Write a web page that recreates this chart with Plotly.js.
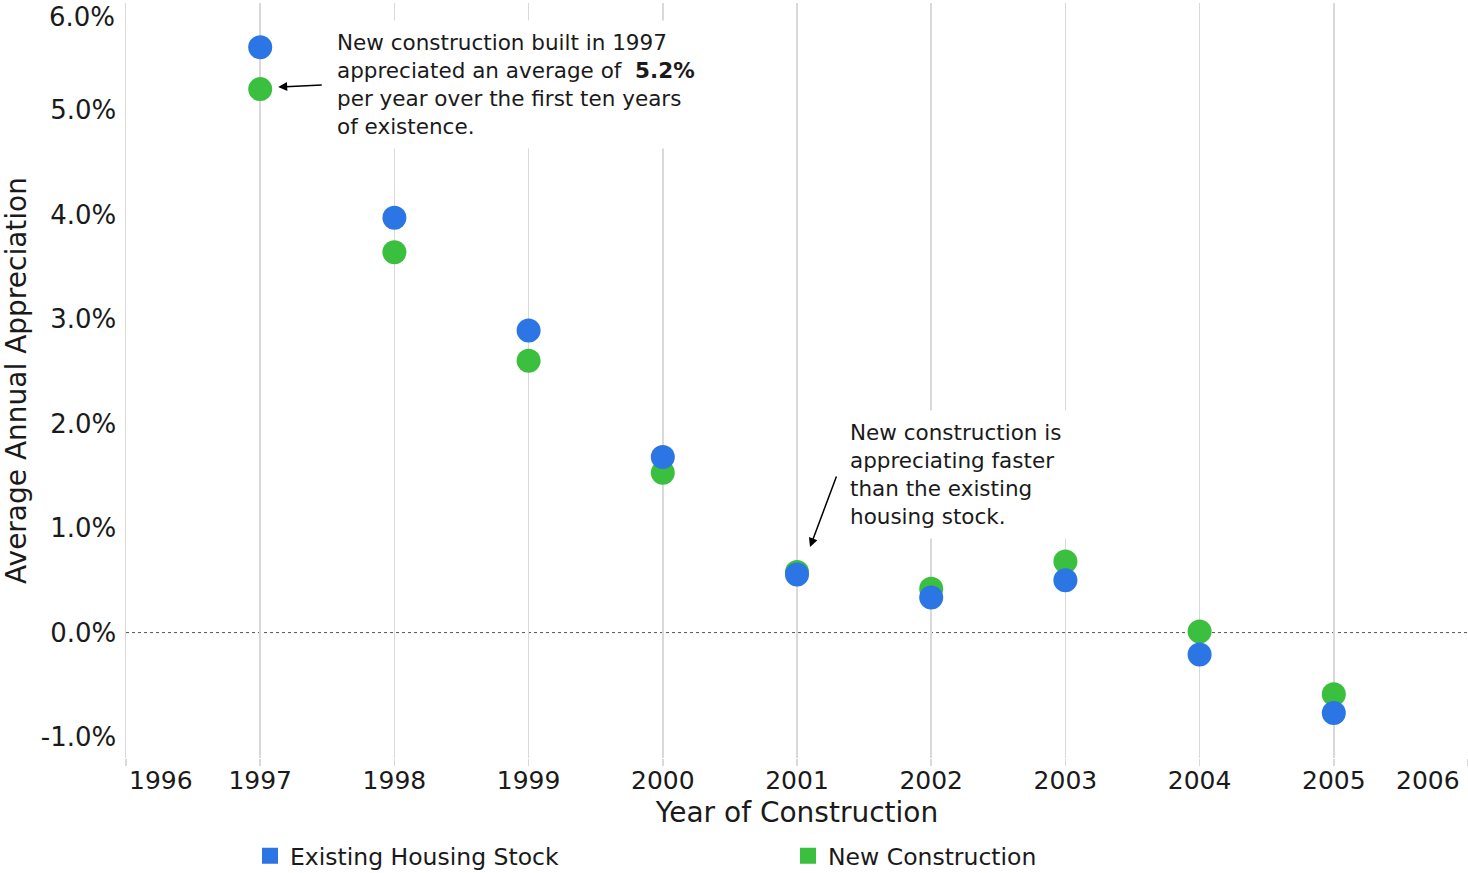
<!DOCTYPE html>
<html>
<head>
<meta charset="utf-8">
<script src="https://cdn.plot.ly/plotly-3.0.1.min.js"></script>
<style>html,body{margin:0;padding:0;background:#fff}#chart{width:1468px;height:873px}</style>
</head>
<body>
<div id="chart"></div>
<script>
// ---- data ----
const years = [1997, 1998, 1999, 2000, 2001, 2002, 2003, 2004, 2005];
const existingStock = [5.60, 3.97, 2.89, 1.68, 0.555, 0.335, 0.50, -0.21, -0.77];
const newConstruction = [5.20, 3.64, 2.60, 1.53, 0.58, 0.42, 0.68, 0.01, -0.59];
const xTickYears = [1996, 1997, 1998, 1999, 2000, 2001, 2002, 2003, 2004, 2005, 2006];
const yTickVals = [-1, 0, 1, 2, 3, 4, 5, 6];
const yTickLabels = ['-1.0%', '0.0%', '1.0%', '2.0%', '3.0%', '4.0%', '5.0%', '6.0%'];
const seriesNames = ['Existing Housing Stock', 'New Construction'];

const BLUE = '#2c75e5';
const GREEN = '#3abf3e';
const FONT = 'DejaVu Sans, sans-serif';
const TXT = '#1a1a1a';

const traces = [
  {x: years, y: newConstruction, type: 'scatter', mode: 'markers', name: seriesNames[1],
   marker: {color: GREEN, size: 24}, showlegend: false, cliponaxis: false},
  {x: years, y: existingStock, type: 'scatter', mode: 'markers', name: seriesNames[0],
   marker: {color: BLUE, size: 24}, showlegend: false, cliponaxis: false},
  {x: [null], y: [null], type: 'scatter', mode: 'markers', name: seriesNames[0],
   marker: {color: BLUE, size: 20, symbol: 'square'}},
  {x: [null], y: [null], type: 'scatter', mode: 'markers', name: seriesNames[1],
   marker: {color: GREEN, size: 20, symbol: 'square'}}
];

const innerTicks = xTickYears.slice(1, -1);
const lastY = yTickVals.length - 1;

const annotations = [
  {xref: 'x', yref: 'paper', x: xTickYears[0], y: 0, xshift: 35, yshift: -22, yanchor: 'middle',
   text: String(xTickYears[0]), showarrow: false, font: {family: FONT, size: 25, color: TXT}},
  {xref: 'x', yref: 'paper', x: xTickYears[xTickYears.length - 1], y: 0, xshift: -40, yshift: -22, yanchor: 'middle',
   text: String(xTickYears[xTickYears.length - 1]), showarrow: false, font: {family: FONT, size: 25, color: TXT}},
  {xref: 'paper', yref: 'y', x: 0, y: yTickVals[lastY], xanchor: 'right', xshift: -9, yshift: -11, yanchor: 'middle',
   text: yTickLabels[lastY], showarrow: false, font: {family: FONT, size: 26, color: TXT}},
  {xref: 'x', yref: 'y', x: 1997.499, y: 5.244, xanchor: 'left', yanchor: 'middle', align: 'left',
   text: 'New construction built in 1997<br>appreciated an average of  <b>5.2%</b><br>per year over the first ten years<br>of existence.',
   showarrow: false, bgcolor: '#ffffff', borderpad: 9, font: {family: FONT, size: 21.5, color: TXT}},
  {xref: 'x', yref: 'y', x: 2001.32, y: 1.512, xanchor: 'left', yanchor: 'middle', align: 'left',
   text: 'New construction is<br>appreciating faster<br>than the existing<br>housing stock.',
   showarrow: false, bgcolor: '#ffffff', borderpad: 9, font: {family: FONT, size: 21.5, color: TXT}},
  {xref: 'x', yref: 'y', x: 1997.134, y: 5.22, axref: 'x', ayref: 'y', ax: 1997.47, ay: 5.24,
   text: '', showarrow: true, arrowhead: 2, arrowsize: 1.2, arrowwidth: 1.5, arrowcolor: '#000'},
  {xref: 'x', yref: 'y', x: 2001.097, y: 0.818, axref: 'x', ayref: 'y', ax: 2001.298, ay: 1.507,
   text: '', showarrow: true, arrowhead: 2, arrowsize: 1.2, arrowwidth: 1.5, arrowcolor: '#000'}
];

const layout = {
  width: 1468, height: 873,
  margin: {l: 126, r: 0, t: 3, b: 115, autoexpand: false},
  paper_bgcolor: '#ffffff', plot_bgcolor: '#ffffff',
  font: {family: FONT, color: TXT},
  showlegend: true,
  legend: {orientation: 'h', xref: 'container', yref: 'container', x: 0.1703, xanchor: 'left',
           y: 0.0195, yanchor: 'middle',
           entrywidth: 493, entrywidthmode: 'pixels', font: {family: FONT, size: 23.5, color: TXT},
           bgcolor: 'rgba(0,0,0,0)'},
  xaxis: {
    range: [xTickYears[0], xTickYears[xTickYears.length - 1]],
    automargin: false,
    tickmode: 'array', tickvals: xTickYears,
    ticktext: xTickYears.map(v => innerTicks.includes(v) ? String(v) : ''),
    showgrid: true, gridcolor: '#d9d9d9', gridwidth: 1.5,
    ticks: 'outside', ticklen: 7, tickcolor: '#d9d9d9', tickwidth: 1.5,
    ticklabelstandoff: -7,
    zeroline: false, showline: false,
    tickfont: {family: FONT, size: 25, color: TXT},
    title: {text: 'Year of Construction', font: {family: FONT, size: 28, color: TXT}, standoff: 8}
  },
  yaxis: {
    range: [-1.2, 6.024],
    automargin: false,
    tickmode: 'array', tickvals: yTickVals.slice(0, lastY), ticktext: yTickLabels.slice(0, lastY),
    showgrid: false, zeroline: false, showline: true, linecolor: '#d9d9d9', linewidth: 1.5,
    ticks: '', ticklabelstandoff: 3,
    tickfont: {family: FONT, size: 26, color: TXT},
    title: {text: 'Average Annual Appreciation', font: {family: FONT, size: 28, color: TXT}, standoff: 10}
  },
  shapes: [
    {type: 'line', xref: 'paper', yref: 'y', x0: 0, x1: 1, y0: 0, y1: 0,
     line: {color: '#555555', width: 1, dash: 'dot'}, layer: 'below'}
  ],
  annotations: annotations
};

Plotly.newPlot('chart', traces, layout, {displayModeBar: false, staticPlot: true});
</script>
</body>
</html>
